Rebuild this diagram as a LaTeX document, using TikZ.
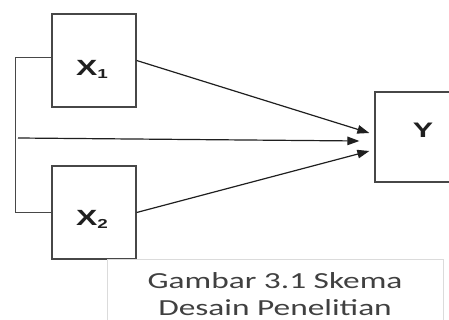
\documentclass[tikz,border=0pt]{standalone}
\usepackage{fontspec}
\usetikzlibrary{arrows.meta,calc}
\newfontfamily\labfont[FakeStretch=1.45]{Liberation Sans}
\newfontfamily\capfont[FakeStretch=1.45]{Carlito}
\begin{document}
\begin{tikzpicture}[x=1pt,y=-1pt,
  box/.style={draw=black!72, line width=1.3pt, minimum width=84pt, minimum height=93pt, inner sep=0pt},
  lab/.style={font=\labfont\bfseries\fontsize{22}{22}\selectfont, text=black!88, inner sep=0pt},
  arr/.style={draw=black!88, line width=1.2pt, -{Triangle[length=12pt,width=8.5pt]}},
  brk/.style={draw=black!72, line width=1pt},
  capbox/.style={draw=black!14, line width=0.8pt, minimum width=336pt, minimum height=70pt, inner sep=0pt,
    align=center, text=black!75, font=\capfont\fontsize{23}{27}\selectfont}
  ]
\useasboundingbox (0,0) rectangle (449,320);
\clip (0,0) rectangle (449,320);
% boxes
\node[box] (x1) at (94,60.5) {};
\node[box] (x2) at (94,212.5) {};
\node[box, minimum width=95pt, minimum height=90pt] (y) at (422.5,137) {};
% labels
\node[lab] (lx1) at (92,69) {X\raisebox{-3pt}{\fontsize{13}{13}\selectfont 1}};
\node[lab] (lx2) at (92,219) {X\raisebox{-3pt}{\fontsize{13}{13}\selectfont 2}};
\node[lab, font=\labfont\bfseries\fontsize{21}{21}\selectfont] (ly) at (423,130) {Y};
% caption
\node[capbox] (cap) at (275,294) {Gambar 3.1 Skema\\Desain Penelitian};
% bracket
\coordinate (bt) at (15,58);
\draw[brk] ($(x1.west)+(0,-2.5)$) -- (bt) |- (x2.west);
% arrows
\coordinate (s) at (18,138);
\draw[arr] (x1.east) -- ($(y.west)+(-5,-4)$);
\draw[arr] (s) -- ($(y.west)+(-15,4)$);
\draw[arr] (x2.east) -- ($(y.west)+(-5,14)$);
\end{tikzpicture}
\end{document}
